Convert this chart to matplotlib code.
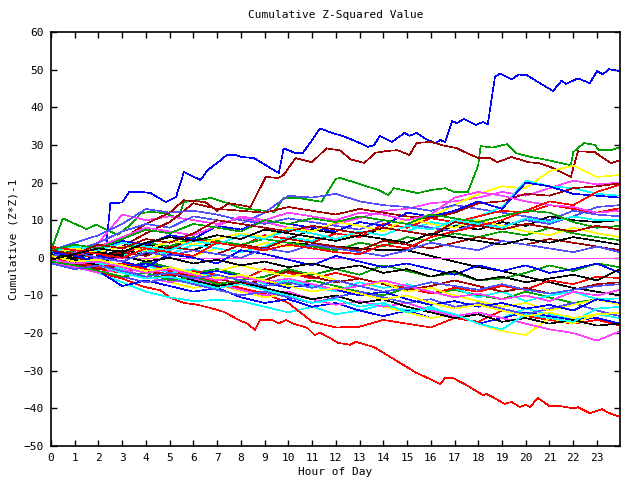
import matplotlib
matplotlib.use("Agg")
import matplotlib.pyplot as plt

# ---------------- data ----------------
HOURS = [0, 1, 2, 3, 4, 5, 6, 7, 8, 9, 10, 11, 12, 13, 14, 15, 16, 17, 18, 19, 20, 21, 22, 23, 23.97]

# prominent lines (irregular sample points)
blue_top_x = [0, 0.5, 1, 1.5, 2, 2.3, 2.5, 3.0, 3.3, 3.8, 4.2, 4.84, 5.27, 5.6, 5.85, 6.3, 6.6, 7.0, 7.4, 7.8,
              8.0, 8.55, 9.6, 9.8, 10.3, 10.6, 11.0, 11.33, 11.75, 12.4, 12.9, 13.35, 13.6, 13.86, 14.36, 14.9,
              15.1, 15.4, 15.8, 16.2, 16.4, 16.6, 16.9, 17.1, 17.4, 17.9, 18.2, 18.4, 18.7, 18.9, 19.4, 19.7,
              20.05, 20.6, 21.15, 21.5, 21.7, 22.2, 22.7, 23.0, 23.25, 23.5, 23.97]
blue_top_y = [0, -0.5, -0.8, -1.0, -0.5, 1.0, 14.5, 14.7, 17.5, 17.5, 17.2, 14.8, 16.2, 22.8, 22.0, 20.7, 23.3,
              25.2, 27.3, 27.3, 26.8, 26.5, 22.5, 29.1, 27.8, 27.8, 31.3, 34.4, 33.4, 32.1, 30.8, 29.5, 29.9,
              32.4, 30.8, 33.2, 32.4, 33.2, 31.5, 30.5, 31.3, 30.8, 36.3, 35.8, 36.9, 35.3, 36.1, 35.5, 48.0,
              49.0, 47.4, 48.7, 48.5, 46.4, 44.3, 47.0, 46.2, 47.7, 46.4, 49.6, 48.8, 50.1, 49.6]

darkred_top_x = [0, 1, 2, 3, 4, 5, 5.6, 6.5, 7, 7.5, 8.0, 8.4, 9.05, 9.56, 9.8, 10.3, 11.0, 11.6, 12.2, 12.6,
                 13.2, 13.65, 14.15, 14.6, 15.1, 15.4, 16.0, 16.5, 17.1, 17.5, 18.0, 18.5, 18.8, 19.4, 20.1,
                 20.6, 21.05, 21.9, 22.0, 22.2, 22.9, 23.6, 23.97]
darkred_top_y = [1, 0.5, 2, 5, 9, 12, 15.3, 14.8, 12.5, 14.5, 14.0, 13.5, 21.5, 21.2, 22.0, 26.5, 25.4, 29.1,
                 28.5, 26.2, 25.2, 27.9, 28.4, 28.6, 27.3, 30.5, 30.8, 29.9, 29.1, 27.9, 26.5, 26.5, 25.4, 26.8,
                 25.4, 25.1, 24.1, 21.5, 23.8, 28.3, 28.1, 25.1, 26.0]

green_top_x = [0, 0.5, 1.5, 1.9, 2.8, 3.3, 3.8, 4.2, 4.76, 5.35, 5.6, 6.74, 7.4, 8.0, 9.4, 9.8, 10.4, 11.4, 12.0,
               12.2, 13.8, 14.2, 14.45, 15.45, 16.0, 16.6, 17.0, 17.56, 18.0, 18.1, 18.6, 19.2, 19.6, 20.2, 20.9,
               21.9, 22.0, 22.45, 22.9, 23.1, 23.6, 23.97]
green_top_y = [2.0, 10.5, 7.6, 8.8, 6.1, 8.5, 11.9, 12.2, 11.9, 10.6, 14.8, 15.9, 14.6, 13.2, 12.2, 15.9, 15.9,
               14.9, 21.0, 21.2, 18.0, 16.7, 18.5, 17.2, 18.0, 18.5, 17.5, 17.5, 24.6, 29.7, 29.3, 30.2, 27.8,
               26.8, 26.0, 24.6, 28.1, 30.5, 30.0, 28.6, 28.6, 29.4]

red_bottom_x = [0, 1, 2, 3, 3.9, 4.6, 5.05, 5.6, 6.2, 6.7, 7.3, 8.0, 8.25, 8.6, 8.8, 9.3, 9.6, 9.9, 10.2, 10.8,
                11.1, 11.33, 11.75, 12.1, 12.6, 12.85, 13.15, 13.6, 14.15, 14.7, 15.4, 16.0, 16.4, 16.6, 16.95,
                17.5, 18.2, 18.35, 18.6, 19.1, 19.4, 19.75, 19.97, 20.2, 20.5, 21.0, 21.45, 22.0, 22.2, 22.7,
                23.2, 23.5, 23.97]
red_bottom_y = [-0.5, -2.5, -4.0, -5.5, -7.7, -8.6, -10.7, -12.0, -12.5, -13.3, -14.4, -16.8, -17.4, -19.2,
                -16.5, -16.5, -17.4, -16.5, -17.5, -18.6, -20.5, -19.9, -21.3, -22.6, -23.1, -22.3, -22.9, -23.7,
                -25.8, -27.9, -30.6, -32.3, -33.6, -31.9, -32.0, -33.8, -36.5, -36.2, -37.0, -38.8, -38.3, -39.6,
                -39.1, -39.6, -37.2, -39.4, -39.4, -40.0, -39.7, -41.3, -40.2, -41.2, -42.3]

# tangle lines (hourly readings)
red_2 = [-0.5, -1.5, -3, -4, -2, -3.5, -5, -6.5, -8, -9.5, -12, -17, -18.5, -18.3, -16.5, -17.5, -18.5, -16, -17, -14, -15.5, -16.5, -17.5, -16.5, -18]
red_3 = [2.5, 1, 0, 1.5, 3, 2, 5, 4, 3, 6, 5, 4, 6.5, 5.5, 9, 8, 10.5, 9.5, 11, 12.5, 12, 14, 13, 12, 13.2]
red_4 = [0, -1, -2.5, -1.5, -3, -4.5, -3.5, -4.5, -6, -3, -4, -5.5, -4, -5.5, -7, -8, -9.5, -8, -9, -7.5, -8.5, -6, -7, -5, -5.4]
red_5 = [3, 2, 1, 0, 2.5, 1.5, 0.5, 4, 3, 2, 3.5, 2.5, 1.5, 1, 3.5, 2.5, 5.5, 7, 8.5, 10, 12.5, 15, 14, 17.5, 19.5]
green_2 = [1, -0.5, -2, -3, -1, -2.5, -4, -3, -4.5, -6, -7, -6, -7.5, -9, -10, -8, -9.5, -8.5, -10, -11, -9, -10.5, -12, -11, -12.5]
green_3 = [0.5, 2, 3.5, 2.5, 4, 3, 5.5, 4.5, 3.5, 5, 4, 3, 2, 4, 3, 5.5, 4.5, 6.5, 5.5, 7, 6, 8, 6.5, 5.5, 4.7]
green_4 = [-1, -2, -3.5, -5, -4, -6, -5, -7, -6, -5, -3, -4.5, -3, -4.5, -2, -3.5, -5, -4, -6, -5.5, -4, -2, -3.5, -1.5, -2.5]
green_5 = [2, 3.5, 2.5, 5, 7.5, 6.5, 9, 8, 7, 10, 9, 10.5, 9.5, 11, 10, 9, 11.5, 10.5, 9.5, 11, 12.5, 12, 9.5, 8, 8.5]
blue_2 = [0, -2, -3.5, -7.5, -6, -7.5, -9, -8, -10.5, -12, -11, -13, -12, -14, -15.5, -14, -16, -15, -17.5, -16, -14.5, -15.5, -16.5, -16, -17.5]
blue_3 = [1, 0, 2, 4.5, 3.5, 6, 5, 8.5, 7.5, 10, 9, 8, 7, 9.5, 8.5, 12, 11, 12.5, 15, 13, 20, 19, 17, 16.5, 16]
blue_4 = [-0.5, -1.5, 0.5, -1, -2.5, 1, 0, -1.5, 2, 1, -0.5, -2, 0.5, -1, -2.5, -1.5, -3, -4.5, -2, -3.5, -2, -4, -3, -1.5, -4]
blue_5 = [1.5, 0.5, -1, -2.5, -1.5, -3, -4.5, -3.5, -5, -6.5, -8, -7, -8.5, -10, -9, -11, -12.5, -11.5, -13, -12, -13.5, -12.5, -14, -11, -12]
magenta_1 = [1, 0, 4, 11.5, 10, 11, 10, 9, 10.5, 9.5, 8, 7.5, 9, 10.5, 12.5, 13, 14.5, 15, 16, 17.5, 16.5, 18.5, 20.5, 19.5, 20]
magenta_2 = [0, 0, 0, 0, 0, 0, 0, 0, 0, 0, 0, 0, 0, 0, 0, 0, 0, 0, 0, 0, 0, 0, 0, 0, 0]
magenta_3 = [-1, -2.5, -4, -3, -5, -6.5, -5.5, -7, -8.5, -10, -9, -11, -12.5, -11.5, -13, -12, -14, -15.5, -14.5, -16, -17.5, -19, -20, -22, -19.5]
magenta_4 = [2, 1, 3, 5.5, 8, 7, 6, 8.5, 11, 10, 12, 11, 10, 12, 11.5, 10, 11.5, 16, 17.5, 16.5, 15, 14, 13.5, 12, 12.5]
magenta_5 = [-0.5, -1.5, -1, -2.5, -4, -3, -4.5, -6, -5, -6.5, -5.5, -7, -8.5, -7.5, -6, -7.5, -9, -10.5, -9.5, -11, -10, -11.5, -9, -10, -8.5]
cyan_1 = [0, -2, -4, -6.5, -9, -10.5, -11.5, -11.2, -11.5, -13, -14.5, -13, -15, -14, -12.5, -14, -13, -15.5, -14.5, -16, -13.5, -15, -16.5, -15, -16]
cyan_2 = [0.5, -0.5, 1.5, 0.5, 2, 1, 3.5, 2.5, 1.5, 3, 5.5, 4.5, 6.5, 5.5, 8, 7, 9.5, 8.5, 11, 13.5, 20.5, 19, 18.5, 17, 16.5]
cyan_3 = [-1, 0, -1.5, -3, -2, -4, -3, -5.5, -4.5, -7, -6, -7.5, -9, -6.5, -8, -7, -9.5, -8, -10.5, -9, -11.5, -10, -9, -11, -10.8]
cyan_4 = [1.5, 3, 2, 4, 3, 2, 4.5, 3.5, 6, 5, 7.5, 6.5, 5, 7, 6, 8.5, 7.5, 10, 9, 8, 10.5, 9.5, 11, 10, 10]
cyan_5 = [-1.5, -3, -2, -4, -5.5, -5, -6.5, -8, -7, -8.5, -10, -12, -11, -13, -12, -14.5, -13.5, -15, -17.5, -19, -15, -16, -17, -13.5, -13]
darkred_2 = [0.5, 2.5, 1.5, 3, 6.5, 9.5, 14.5, 13, 12.5, 12, 13.5, 12.5, 11.5, 13, 12, 11, 10.5, 12, 14.5, 15, 17, 16.5, 18.5, 19, 19.8]
darkred_3 = [1, 0, -1, 1.5, 0.5, 3, 2, 1, 3.5, 2.5, 5, 4, 3, 2, 4.5, 3.5, 2.5, 4, 5.5, 4.5, 3.5, 5, 4, 3, 2]
darkred_4 = [-0.5, -1.5, -3, -2, -3.5, -5, -4, -5.5, -7, -6, -3.5, -5, -6.5, -5.5, -7, -8.5, -7.5, -6, -7.5, -9, -8, -9.5, -8.5, -7, -6.5]
darkred_5 = [2, 1, 3.5, 2.5, 5, 4, 6.5, 10, 9, 8, 7, 8.5, 7.5, 6.5, 8, 7, 6, 9.5, 8.5, 7.5, 9, 8, 7, 8.5, 7.5]
yellow_1 = [0, -1, -2, 0.5, -0.5, 1.5, 0.5, 2.5, 1.5, 4, 3, 5.5, 4.5, 7, 6, 8.5, 11, 14, 17, 19, 18.5, 23, 24.5, 21.5, 22]
yellow_2 = [-1, -2.5, -4, -3, -5, -6.5, -8, -7, -9, -10.5, -9.5, -11, -12.5, -11.5, -13, -14.5, -16, -15, -17.5, -19.5, -20.5, -16, -17.5, -15, -14.5]
yellow_3 = [1, 2.5, 1.5, 3, 2, 4.5, 3.5, 5, 6.5, 5.5, 8, 7, 9.5, 8.5, 7, 10.5, 9, 8, 10, 8.5, 7, 6, 8, 6.5, 5.5]
yellow_4 = [-0.5, 0.5, -1, -2.5, -1.5, -3, -4.5, -3.5, -2, -3.5, -5, -4, -6, -7.5, -6.5, -9, -8, -10, -11.5, -13, -12, -14, -12.5, -11, -12.5]
yellow_5 = [0.5, -1, -0.5, -2, -3.5, -2.5, -4, -5.5, -4.5, -6, -7.5, -9, -8, -9.5, -11, -10, -12, -13.5, -12.5, -14, -15.5, -14.5, -16, -15, -14.7]
black_1 = [0, -1, 0.5, 2, 1, 3, 2, 4.5, 3.5, 5, 4, 3.5, 3, 2.5, 2, 2, 0.5, -1, -2.5, -3.5, -5, -6.5, -8, -9, -10]
black_2 = [-1, 0, -1.5, 1, 3.5, 2.5, 5, 4, 3, 6, 5, 7.5, 6.5, 5.5, 8, 7, 6, 8.5, 7.5, 9.5, 8.5, 11, 10, 9.5, 10]
black_3 = [0.5, -0.5, -2, -3.5, -5, -4, -6, -7.5, -6.5, -8, -9.5, -11, -10, -12, -11, -13, -14.5, -16, -15, -17, -16, -17.5, -16.5, -18, -17.5]
black_4 = [1, 0, 1.5, 0.5, -1, 0, -1.5, -0.5, -2, -1, -2.5, -1.5, -3, -2, -4, -3, -5, -3.5, -6, -5, -6.5, -5.5, -4.5, -6, -3]
black_5 = [-0.5, 1, 2.5, 1.5, 4, 5.5, 4.5, 6, 5, 7.5, 6.5, 5.5, 4.5, 6, 5, 4, 6.5, 5.5, 4.5, 3.5, 5, 4, 5.5, 4.5, 3.5]
slate_1 = [0, 2, 4, 7, 9, 8, 11, 10, 9, 12, 16.5, 16, 17, 15, 14, 13.5, 12.5, 14, 13, 12, 11, 10, 12.5, 11.5, 11]
slate_2 = [2, 4, 6, 9, 13, 12, 12.5, 11.5, 10, 9, 10.5, 9.5, 8.5, 7.5, 10, 9, 8, 7, 9.5, 8.5, 10, 9, 11, 13.5, 14]
slate_3 = [-1, -2, -3.5, -5, -6.5, -5.5, -7, -8.5, -10, -9, -10.5, -12, -10.5, -9, -10.5, -12, -11, -13, -12, -13.5, -15, -13.5, -12, -14, -15.5]
slate_4 = [0.5, 1.5, 0, -1, 1.5, 0.5, 2, 1, 0, 2.5, 1.5, 3.5, 2.5, 1.5, 0.5, 2, 4, 3, 2, 4.5, 3.5, 2.5, 1.5, 3, 1.5]
slate_5 = [-1.5, -3, -2, -3.5, -5, -4, -5.5, -4.5, -6, -7.5, -6.5, -8, -6, -7.5, -9, -8, -6.5, -7.5, -8.5, -7, -8.5, -9.5, -8.5, -7.5, -7]

COLORS = ['#ff0000', '#00a000', '#0000ff', '#ff40ff', '#00ffff', '#a00000', '#ffff00', '#000000', '#5050ff']

# ---------------- build series in gnuplot order ----------------
H = HOURS
series = [
    (red_bottom_x, red_bottom_y), (green_top_x, green_top_y), (blue_top_x, blue_top_y), (H, magenta_1),
    (H, cyan_1), (darkred_top_x, darkred_top_y), (H, yellow_1), (H, black_1), (H, slate_1),
    (H, red_2), (H, green_2), (H, blue_2), (H, magenta_2), (H, cyan_2), (H, darkred_2), (H, yellow_2),
    (H, black_2), (H, slate_2),
    (H, red_3), (H, green_3), (H, blue_3), (H, magenta_3), (H, cyan_3), (H, darkred_3), (H, yellow_3),
    (H, black_3), (H, slate_3),
    (H, red_4), (H, green_4), (H, blue_4), (H, magenta_4), (H, cyan_4), (H, darkred_4), (H, yellow_4),
    (H, black_4), (H, slate_4),
    (H, red_5), (H, green_5), (H, blue_5), (H, magenta_5), (H, cyan_5), (H, darkred_5), (H, yellow_5),
    (H, black_5), (H, slate_5),
]

FONT = 'DejaVu Sans Mono'
plt.rcParams['font.family'] = FONT

fig = plt.figure(figsize=(6.4, 4.8), dpi=100)
ax = fig.add_axes([51 / 640, 34 / 480, (620 - 51) / 640, (446 - 32) / 480])

for i, (xs, ys) in enumerate(series):
    ax.plot(xs, ys, color=COLORS[i % len(COLORS)], lw=0.45, antialiased=False)

ax.set_xlim(0, 23.97)
ax.set_ylim(-50, 60)
ax.set_xticks(range(0, 24))
ax.set_yticks(range(-50, 61, 10))
ax.tick_params(direction='in', length=4.5, width=1, top=True, right=True,
               labelsize=8, pad=5, colors='black')
for s in ax.spines.values():
    s.set_linewidth(1.2)

ax.set_title('Cumulative Z-Squared Value', fontsize=8, pad=10)
ax.set_xlabel('Hour of Day', fontsize=8, labelpad=3)
ax.set_ylabel('Cumulative (Z*Z)-1', fontsize=8, labelpad=4)

fig.savefig('out.png', dpi=100)
